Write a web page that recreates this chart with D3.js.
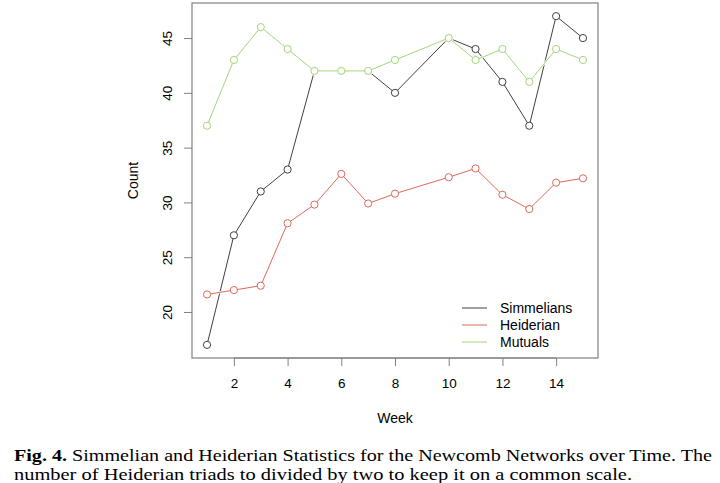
<!DOCTYPE html>
<html>
<head>
<meta charset="utf-8">
<script src="https://cdn.jsdelivr.net/npm/d3@7"></script>
<style>
  body { margin: 0; background: #fff; }
  svg { display: block; }
  .axis text { font-family: "Liberation Sans", Arial, sans-serif; font-size: 13.5px; fill: #000; }
</style>
</head>
<body>
<div id="chart"></div>
<script>
// week 9 is missing in the data
var weeks = [1, 2, 3, 4, 5, 6, 7, 8, 10, 11, 12, 13, 14, 15];
var simmelians = [17, 27, 31, 33, 42, 42, 42, 40, 45, 44, 41, 37, 47, 45];
var heiderian = [21.6, 22.0, 22.4, 28.1, 29.8, 32.6, 29.9, 30.8, 32.3, 33.1, 30.7, 29.4, 31.8, 32.2];
var mutuals = [37, 43, 46, 44, 42, 42, 42, 43, 45, 43, 44, 41, 44, 43];
var seriesNames = ["Simmelians", "Heiderian", "Mutuals"];
var seriesColors = ["#404040", "#dc6a5a", "#a2d67c"];
var xTicks = [2, 4, 6, 8, 10, 12, 14];
var yTicks = [20, 25, 30, 35, 40, 45];

var width = 720, height = 483;
var box = { left: 192, right: 598, top: 3, bottom: 358 };

var svg = d3.select("#chart").append("svg")
	.attr("width", width)
	.attr("height", height);

// R style 4% padding on both axes
var x = d3.scaleLinear().domain([0.44, 15.56]).range([box.left, box.right]);
var y = d3.scaleLinear().domain([15.8, 48.2]).range([box.bottom, box.top]);

var allSeries = [simmelians, heiderian, mutuals];
var r = 3.6;

/**
* draws one series as R type = "b" (segments stop short of the points)
*/
function drawSeries(g, pts, color, sw) {
	for (var i = 0; i < pts.length - 1; i++) {
		var dx = pts[i + 1][0] - pts[i][0],
			dy = pts[i + 1][1] - pts[i][1],
			len = Math.sqrt(dx * dx + dy * dy);
		if (len <= 2 * r) continue;
		var ux = dx / len, uy = dy / len;
		g.append("line")
			.attr("x1", pts[i][0] + ux * r)
			.attr("y1", pts[i][1] + uy * r)
			.attr("x2", pts[i + 1][0] - ux * r)
			.attr("y2", pts[i + 1][1] - uy * r)
			.attr("stroke", color)
			.attr("stroke-width", sw);
	}
	pts.forEach(function(p) {
		g.append("circle")
			.attr("cx", p[0])
			.attr("cy", p[1])
			.attr("r", r)
			.attr("fill", "none")
			.attr("stroke", color)
			.attr("stroke-width", sw);
	});
}

allSeries.forEach(function(vals, si) {
	var g = svg.append("g").attr("class", "series");
	var pts = weeks.map(function(w, i) { return [x(w), y(vals[i])]; });
	// later series paint over earlier ones like an opaque raster device
	if (si > 0) drawSeries(g, pts, "#fff", 2.2);
	drawSeries(g, pts, seriesColors[si], 1);
});

// plot box
svg.append("rect")
	.attr("x", box.left)
	.attr("y", box.top)
	.attr("width", box.right - box.left)
	.attr("height", box.bottom - box.top)
	.attr("fill", "none")
	.attr("stroke", "#808080")
	.attr("stroke-width", 1.2);

// axes
var xAxis = d3.axisBottom(x).tickValues(xTicks).tickSize(8).tickPadding(12);
var gx = svg.append("g")
	.attr("class", "axis")
	.attr("transform", "translate(0," + box.bottom + ")")
	.call(xAxis);
gx.select(".domain").remove();
gx.selectAll(".tick line").attr("stroke", "#808080");
gx.append("line")
	.attr("x1", x(xTicks[0])).attr("x2", x(xTicks[xTicks.length - 1]))
	.attr("stroke", "#808080");

var yAxis = d3.axisLeft(y).tickValues(yTicks).tickSize(8).tickPadding(0);
var gy = svg.append("g")
	.attr("class", "axis")
	.attr("transform", "translate(" + box.left + ",0)")
	.call(yAxis);
gy.select(".domain").remove();
gy.selectAll(".tick line").attr("stroke", "#808080");
gy.selectAll(".tick text")
	.attr("x", 0)
	.attr("dy", null)
	.attr("text-anchor", "middle")
	.attr("transform", "translate(-25,0) rotate(-90)")
	.attr("dominant-baseline", "central");

// axis titles
svg.append("text")
	.attr("x", (box.left + box.right) / 2)
	.attr("y", 423)
	.attr("text-anchor", "middle")
	.style("font-family", "Liberation Sans, Arial, sans-serif")
	.style("font-size", "14px")
	.text("Week");

svg.append("text")
	.attr("transform", "translate(138," + ((box.top + box.bottom) / 2) + ") rotate(-90)")
	.attr("text-anchor", "middle")
	.style("font-family", "Liberation Sans, Arial, sans-serif")
	.style("font-size", "14px")
	.text("Count");

// legend
var legend = svg.append("g").attr("transform", "translate(462,308)");
seriesNames.forEach(function(name, i) {
	legend.append("line")
		.attr("x1", 0).attr("x2", 25)
		.attr("y1", i * 17).attr("y2", i * 17)
		.attr("stroke", seriesColors[i]);
	legend.append("text")
		.attr("x", 38)
		.attr("y", i * 17)
		.attr("dominant-baseline", "central")
		.style("font-family", "Liberation Sans, Arial, sans-serif")
		.style("font-size", "14px")
		.text(name);
});

// caption
var cap1 = svg.append("text")
	.attr("x", 14)
	.attr("y", 461)
	.attr("textLength", 698)
	.attr("lengthAdjust", "spacingAndGlyphs")
	.style("font-family", "Liberation Serif, serif")
	.style("font-size", "17px");
cap1.append("tspan").style("font-weight", "bold").text("Fig. 4.");
cap1.append("tspan").text(" Simmelian and Heiderian Statistics for the Newcomb Networks over Time. The");

svg.append("text")
	.attr("x", 14)
	.attr("y", 480)
	.attr("textLength", 618)
	.attr("lengthAdjust", "spacingAndGlyphs")
	.style("font-family", "Liberation Serif, serif")
	.style("font-size", "17px")
	.text("number of Heiderian triads to divided by two to keep it on a common scale.");
</script>
</body>
</html>
